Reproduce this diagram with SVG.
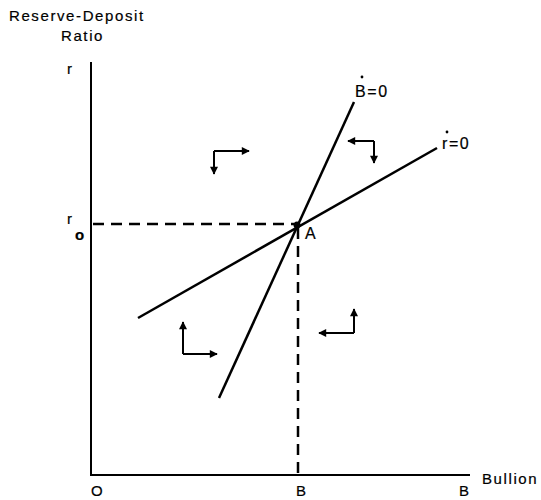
<svg xmlns="http://www.w3.org/2000/svg" width="541" height="500" viewBox="0 0 541 500">
<defs>
<marker id="ah" viewBox="0 0 10 10" refX="9" refY="5" markerWidth="13" markerHeight="8" markerUnits="userSpaceOnUse" orient="auto"><path d="M0,0 L10,5 L0,10 z" fill="#000"/></marker>
</defs>
<style>
text{font-family:"Liberation Sans",Arial,sans-serif;font-size:15px;fill:#000;stroke:#000;stroke-width:0.2;letter-spacing:1.6px}
.big{font-size:16px}
.ax{stroke:#000;stroke-width:2;fill:none}
.ln{stroke:#000;stroke-width:2.5;fill:none}
.ds{stroke:#000;stroke-width:2.5;stroke-dasharray:11,7;fill:none}
.ar{stroke:#000;stroke-width:2;fill:none;marker-end:url(#ah)}
</style>
<rect width="541" height="500" fill="#fff"/>
<g id="axes">
<path class="ax" d="M91,62 V475 H470"/>
<text x="9" y="21">Reserve-Deposit</text>
<text x="61" y="41">Ratio</text>
<text x="67" y="74">r</text>
<text x="67" y="224">r</text>
<text x="75" y="240" font-size="12" font-weight="bold">o</text>
<text x="482" y="484">Bullion</text>
<text x="91" y="496">O</text>
<text x="296" y="496">B</text>
<text x="459" y="496">B</text>
</g>
<g id="connectors">
<path class="ds" d="M93,224 H294"/>
<path class="ds" d="M298,228 V475"/>
<path class="ln" d="M219,398 L354,102"/>
<path class="ln" d="M138,318 L437,148"/>
<circle cx="297" cy="225" r="3.5" fill="#000"/>
</g>
<g id="labels">
<text class="big" x="355" y="97">B=0</text>
<circle cx="362" cy="77" r="1.4" fill="#000"/>
<text class="big" x="442" y="149">r=0</text>
<circle cx="447" cy="132" r="1.4" fill="#000"/>
<text class="big" x="305" y="239">A</text>
</g>
<g id="arrow-ul">
<path class="ar" d="M214,151 H249"/>
<path class="ar" d="M214,151 V174"/>
</g>
<g id="arrow-ur">
<path class="ar" d="M374,141 H348"/>
<path class="ar" d="M374,141 V163"/>
</g>
<g id="arrow-ll">
<path class="ar" d="M183,354 V322"/>
<path class="ar" d="M183,354 H217"/>
</g>
<g id="arrow-lr">
<path class="ar" d="M354,333 V309"/>
<path class="ar" d="M354,333 H319"/>
</g>
</svg>
